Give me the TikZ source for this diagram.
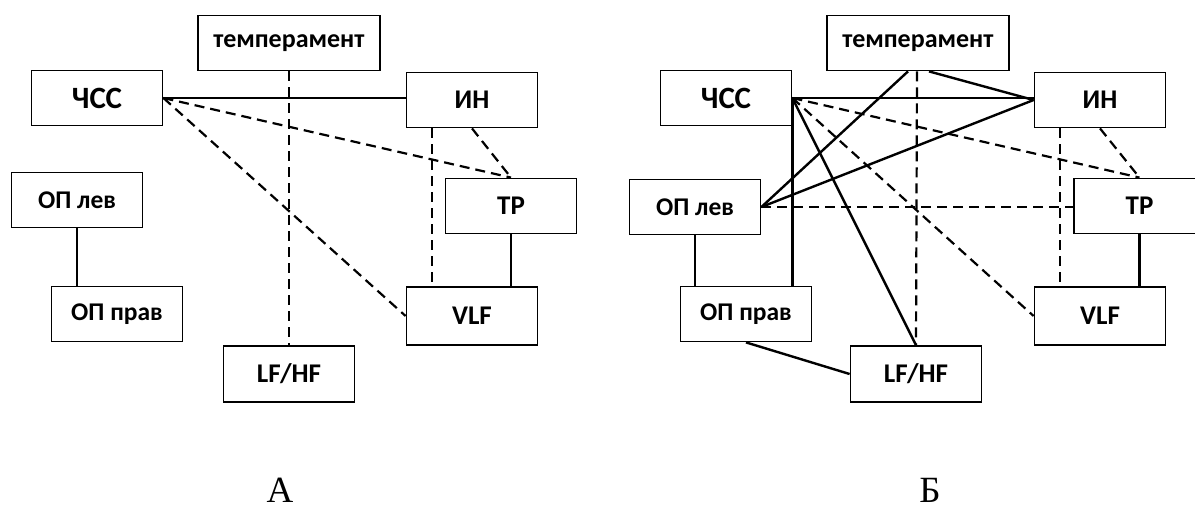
\documentclass[tikz,border=0pt]{standalone}
\usepackage{fontspec}
\setmainfont{Carlito}
\newfontfamily\capfont{Liberation Serif}
\usetikzlibrary{calc}
\tikzset{
  box/.style={draw=black, line width=1.8pt, fill=white, minimum width=131pt,
    minimum height=55pt, inner sep=0pt, font=\bfseries\fontsize{27}{30}\selectfont},
  wide/.style={minimum width=182pt, font=\bfseries\fontsize{26}{30}\selectfont},
  small/.style={font=\bfseries\fontsize{25.5}{28}\selectfont},
  big/.style={font=\bfseries\fontsize{31}{34}\selectfont},
  link/.style={line width=2.4pt, black},
  dlink/.style={line width=2.2pt, black, dash pattern=on 10pt off 6pt},
  caption/.style={font=\capfont\fontsize{37}{40}\selectfont}
}
\begin{document}
\begin{tikzpicture}[x=1pt, y=-1pt]
\useasboundingbox (0,0) rectangle (1195,512);
\clip (0,0) rectangle (1195,512);

% ---------- panel A ----------
\node[box, wide] (temp1) at (289,43) {темперамент};
\node[box, big]  (chss1) at (97,98) {ЧСС};
\node[box] (in1)   at (472,100) {ИН};
\node[box, small] (opl1) at (77,200) {ОП лев};
\node[box, small] (opp1) at (117,314) {ОП прав};
\node[box] (tp1)   at (511,206) {TP};
\node[box, minimum height=58pt] (vlf1) at (472,316) {VLF};
\node[box, minimum height=56pt] (lfhf1) at (289,374) {LF/HF};

\draw[link] (chss1.east) -- (chss1.east -| in1.west);
\draw[dlink] (temp1.south) -- (lfhf1.north);
\draw[dlink] (chss1.east) -- (tp1.north);
\draw[dlink] (chss1.east) -- (vlf1.west);
\draw[dlink] ($(in1.south)+(-40,0)$) -- ($(vlf1.north)+(-40,0)$);
\draw[dlink] (in1.south) -- (tp1.north);
\draw[link] (tp1.south) -- (tp1.south |- vlf1.north);
\draw[link] (opl1.south) -- (opl1.south |- opp1.north);

\node[caption] (capA) at (280,490) {А};

% ---------- panel Б ----------
\node[box, wide] (temp2) at (918,43) {темперамент};
\node[box, big]  (chss2) at (726,98) {ЧСС};
\node[box] (in2)   at (1100,100) {ИН};
\node[box, small] (opl2) at (695,207) {ОП лев};
\node[box] (tp2)   at (1139.5,206) {TP};
\node[box, small] (opp2) at (746,314) {ОП прав};
\node[box, minimum height=58pt] (vlf2) at (1100,316) {VLF};
\node[box, minimum height=56pt] (lfhf2) at (916,374) {LF/HF};

\draw[link] (chss2.east) -- (chss2.east -| in2.west);
\draw[link] (chss2.east) -- (chss2.east |- opp2.north);
\draw[link] (chss2.east) -- (lfhf2.north);
\draw[dlink] (chss2.east) -- (tp2.north);
\draw[dlink] (chss2.east) -- (vlf2.west);
\draw[link] ($(temp2.south)+(-10,0)$) -- (opl2.east);
\draw[link] ($(temp2.south)+(11,0)$) -- (in2.west);
\draw[link] (in2.west) -- (opl2.east);
\draw[dlink] ($(temp2.south)+(-1,0)$) -- (lfhf2.north);
\draw[dlink] (opl2.east) -- (opl2.east -| tp2.west);
\draw[dlink] ($(in2.south)+(-40,0)$) -- ($(vlf2.north)+(-40,0)$);
\draw[dlink] (in2.south) -- (tp2.north);
\draw[link] (tp2.south) -- (tp2.south |- vlf2.north);
\draw[link] (opl2.south) -- (opl2.south |- opp2.north);
\draw[link] (opp2.south) -- (lfhf2.west);

\node[caption] (capB) at (930,490) {Б};
\end{tikzpicture}
\end{document}
